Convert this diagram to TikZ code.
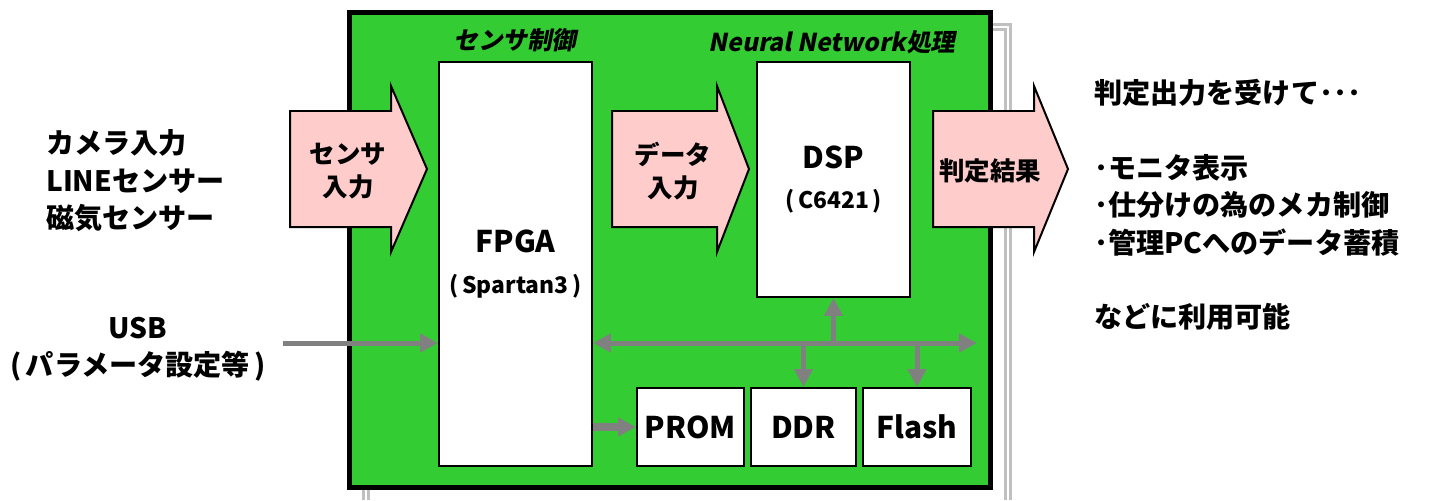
\documentclass[tikz,border=0pt]{standalone}
\usepackage{fontspec}
\setmainfont{Noto Sans CJK JP}
\newfontfamily\slantfont{Noto Sans CJK JP}[FakeSlant=0.2]
\usepackage{tikz}
\usetikzlibrary{arrows.meta, positioning, calc}
\usepackage{xcolor}
\definecolor{boardgreen}{HTML}{33CC33}
\definecolor{flowpink}{HTML}{FFCCCC}
\definecolor{busgray}{HTML}{808080}
\definecolor{shadowgray}{HTML}{C0C0C0}

\begin{document}
\begin{tikzpicture}[x=0.02cm, y=-0.02cm,
    board/.style={rectangle, draw, fill=boardgreen, line width=0.1cm, minimum width=12.84cm, minimum height=9.5cm},
    chip/.style={rectangle, draw, fill=white, line width=0.04cm, align=center, font=\fontsize{17}{21}\selectfont\bfseries},
    memory/.style={rectangle, draw, fill=white, line width=0.04cm, minimum height=1.56cm, font=\fontsize{17}{21}\selectfont\bfseries},
    flow/.style={draw, fill=flowpink, line width=0.04cm, line join=miter},
    flowtext/.style={align=center, font=\fontsize{14.5}{19}\selectfont\bfseries},
    heading/.style={font=\fontsize{14}{18}\slantfont\bfseries},
    sidetext/.style={align=left, anchor=west, font=\fontsize{16}{21.3}\selectfont\bfseries},
    bus/.style={busgray, line width=0.1cm},
    arrow/.style={bus, -{Triangle[length=0.36cm, width=0.36cm]}},
    biarrow/.style={bus, {Triangle[length=0.36cm, width=0.36cm]}-{Triangle[length=0.36cm, width=0.36cm]}},
    fatarrow/.style={busgray, line width=0.16cm, -{Triangle[length=0.36cm, width=0.36cm]}}
]
    \useasboundingbox (0,0) rectangle (1429,500);

    % shadow frame behind the board
    \draw[shadowgray, line width=0.06cm, double=white, double distance=0.04cm] (366,500) -- (366,27) -- (1008,27) -- (1008,500);

    % board
    \node[board] (board) at (670,250) {};
    \node[heading] (sensorctl) at (515,40) {センサ制御};
    \node[heading] (nnproc) at (832,42) {Neural Network処理};

    % chips and memories
    \node[chip, minimum width=3.06cm, minimum height=8.08cm] (fpga) at (515.5,264) {FPGA\\[2pt]{\fontsize{13}{16}\selectfont (\,Spartan3\,)}};
    \node[chip, minimum width=3.06cm, minimum height=4.7cm] (dsp) at (833.5,179.5) {DSP\\[2pt]{\fontsize{13}{16}\selectfont (\,C6421\,)}};
    \node[memory, minimum width=2.14cm] (prom) at (690.5,427) {PROM};
    \node[memory, minimum width=2.1cm] (ddr) at (803.5,427) {DDR};
    \node[memory, minimum width=2.16cm] (flash) at (917,427) {Flash};

    % block arrows
    \draw[flow] (290,111) -- (391,111) -- (391,86) -- (427,169) -- (391,252) -- (391,227) -- (290,227) -- cycle;
    \node[flowtext] (sensorin) at (348,171) {センサ\\入力};
    \draw[flow] (612,111) -- (717,111) -- (717,86) -- (749,169) -- (717,252) -- (717,227) -- (612,227) -- cycle;
    \node[flowtext] (datain) at (673,171) {データ\\入力};
    \draw[flow] (933,111) -- (1034,111) -- (1034,86) -- (1068,169) -- (1034,252) -- (1034,227) -- (933,227) -- cycle;
    \node[flowtext] (result) at (990,171) {判定結果};

    % outside texts
    \node[sidetext] (sources) at (40,181) {カメラ入力\\LINEセンサー\\磁気センサー};
    \node[sidetext, anchor=center, align=center] (usb) at (138,349) {USB\\(\,パラメータ設定等\,)};
    \node[sidetext] (uses) at (1088,205) {判定出力を受けて･･･\\[21.3pt]･モニタ表示\\･仕分けの為のメカ制御\\･管理PCへのデータ蓄積\\[21.3pt]などに利用可能};

    % bus and connections
    \coordinate (busy) at (0,343);
    \coordinate (usbtail) at (283,343);
    \coordinate (busend) at (977,343);
    \draw[arrow] (usbtail) -- (usbtail -| fpga.west);
    \draw[biarrow] (fpga.east |- busy) -- (busend);
    \draw[arrow] (dsp.south |- busy) -- (dsp.south);
    \draw[arrow] (ddr.north |- busy) -- (ddr.north);
    \draw[arrow] (flash.north |- busy) -- (flash.north);
    \draw[fatarrow] (fpga.east |- prom) -- (prom.west);
\end{tikzpicture}
\end{document}
